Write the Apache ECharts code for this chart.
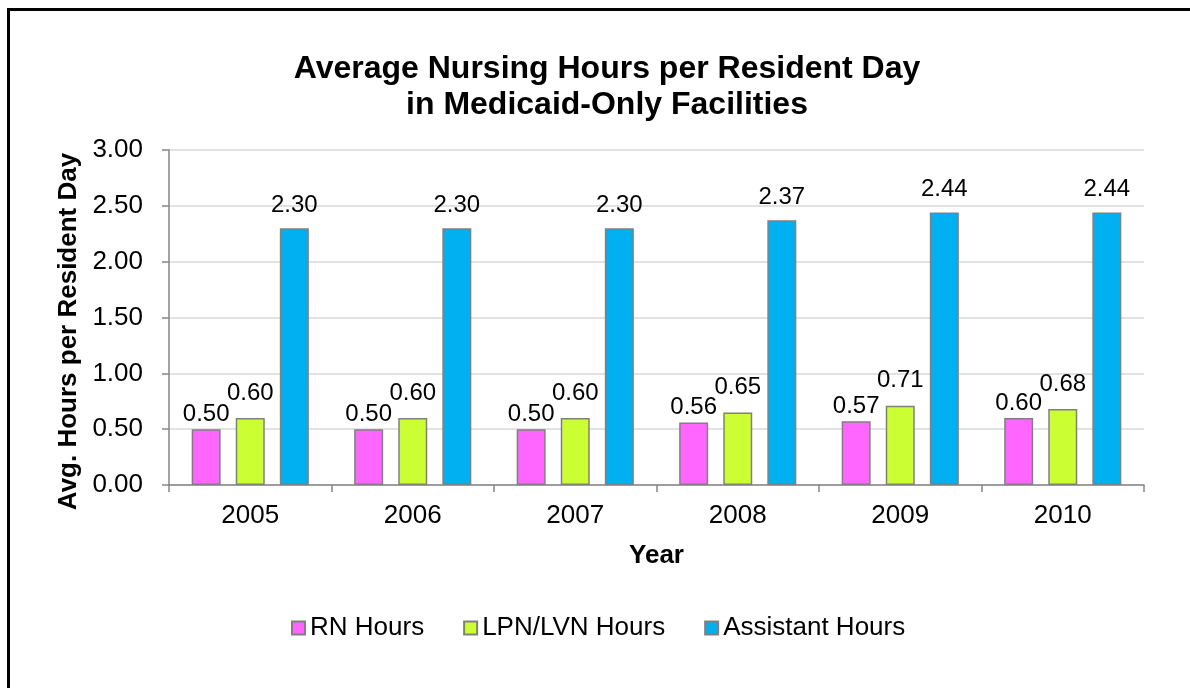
<!DOCTYPE html>
<html>
<head>
<meta charset="utf-8">
<script src="https://cdn.jsdelivr.net/npm/echarts@6/dist/echarts.min.js"></script>
<style>
  html, body { margin: 0; padding: 0; background: #fff; }
  #grid { width: 1190px; height: 688px; }
</style>
</head>
<body>
<div id="grid"></div>
<script>
let years = ['2005', '2006', '2007', '2008', '2009', '2010'];
let rnHours = [0.50, 0.50, 0.50, 0.56, 0.57, 0.60];
let lpnHours = [0.60, 0.60, 0.60, 0.65, 0.71, 0.68];
let assistantHours = [2.30, 2.30, 2.30, 2.37, 2.44, 2.44];

let font = 'Liberation Sans, Arial, sans-serif';

// labels sit at slightly different heights per series, like the original
function barSeries(name, data, color, labelGap) {
    return {
        name: name,
        type: 'bar',
        data: data,
        barWidth: 29,
        barGap: '52%',
        itemStyle: {
            color: color,
            borderColor: '#808080',
            borderWidth: 1.5
        },
        label: {
            show: true,
            position: 'top',
            distance: labelGap,
            color: '#000',
            fontFamily: font,
            fontSize: 24,
            formatter: function (p) { return p.value.toFixed(2); }
        }
    };
}

option = {
    animation: false,
    backgroundColor: '#fff',
    title: {
        text: 'Average Nursing Hours per Resident Day\nin Medicaid-Only Facilities',
        left: 602,
        textAlign: 'center',
        top: 46,
        textStyle: {
            fontFamily: font,
            fontSize: 32,
            fontWeight: 'bold',
            color: '#000',
            lineHeight: 36
        }
    },
    legend: {
        top: 610,
        left: 286,
        itemWidth: 13,
        itemHeight: 13,
        itemGap: 39,
        icon: 'rect',
        textStyle: { fontFamily: font, fontSize: 26, color: '#000', padding: [0, 0, 0, 0] },
        data: ['RN Hours', 'LPN/LVN Hours', 'Assistant Hours']
    },
    grid: {
        left: 169,
        right: 46,
        top: 150,
        bottom: 203
    },
    xAxis: {
        type: 'category',
        data: years,
        name: 'Year',
        nameLocation: 'middle',
        nameGap: 58,
        nameTextStyle: { fontFamily: font, fontSize: 26, fontWeight: 'bold', color: '#000' },
        axisLine: { lineStyle: { color: '#868686', width: 1.5 } },
        axisTick: { show: true, length: 7, lineStyle: { color: '#868686', width: 1.5 } },
        axisLabel: { fontFamily: font, fontSize: 26, color: '#000', margin: 18 }
    },
    yAxis: {
        type: 'value',
        min: 0,
        max: 3,
        interval: 0.5,
        name: 'Avg. Hours per Resident Day',
        nameLocation: 'middle',
        nameGap: 78,
        nameTextStyle: {
            fontFamily: font,
            fontSize: 26,
            fontWeight: 'bold',
            color: '#000',
            padding: [0, 28, 0, 0]
        },
        axisLine: { show: true, lineStyle: { color: '#868686', width: 1.5 } },
        axisTick: { show: true, length: 7, lineStyle: { color: '#868686', width: 1.5 } },
        splitLine: { lineStyle: { color: '#D9D9D9', width: 1.5 } },
        axisLabel: {
            fontFamily: font,
            fontSize: 26,
            color: '#000',
            margin: 26,
            formatter: function (v) { return v.toFixed(2); }
        }
    },
    graphic: [{
        type: 'polyline',
        shape: { points: [[8.5, 688], [8.5, 9.5], [1190, 9.5]] },
        style: { stroke: '#000', lineWidth: 3, fill: null }
    }],
    series: [
        barSeries('RN Hours', rnHours, '#FF66FF', 3),
        barSeries('LPN/LVN Hours', lpnHours, '#CCFF33', 13),
        barSeries('Assistant Hours', assistantHours, '#00B0F0', 11)
    ]
};

let myChart = echarts.init(document.getElementById('grid'));
myChart.setOption(option);
</script>
</body>
</html>
